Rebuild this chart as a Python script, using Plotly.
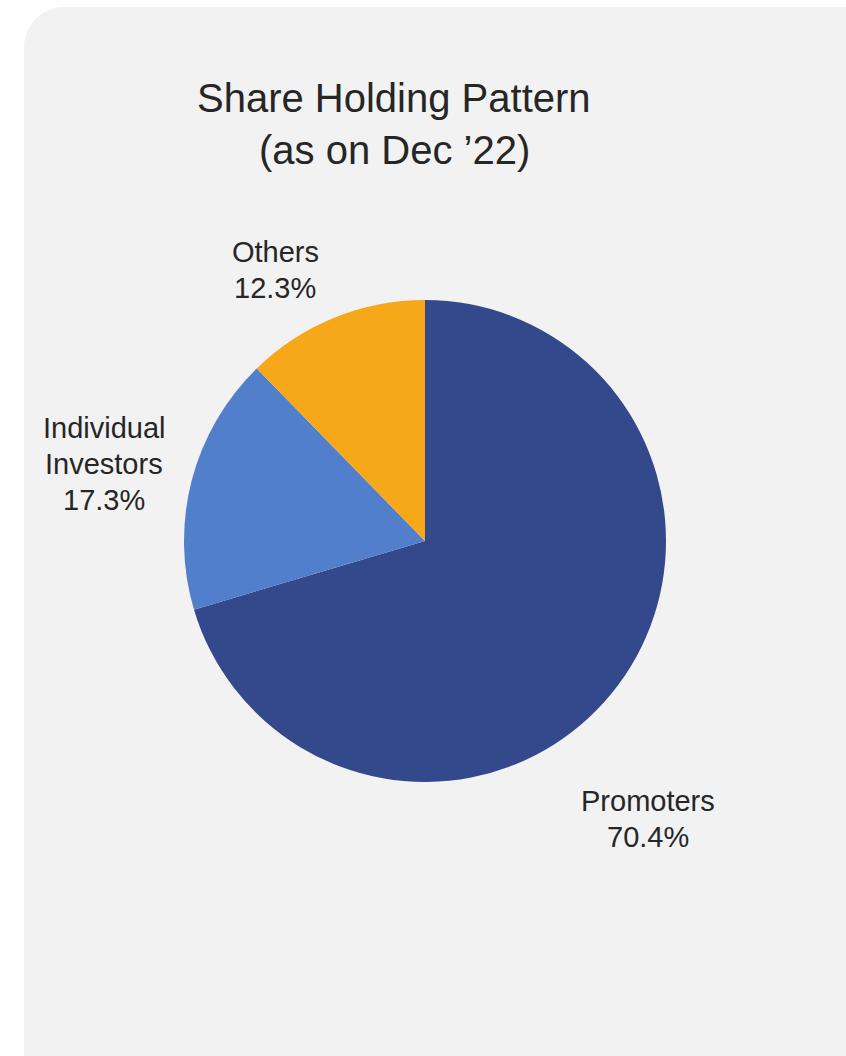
import plotly.graph_objects as go

# Share holding data
categories = ["Promoters", "Individual Investors", "Others"]
shares_pct = [70.4, 17.3, 12.3]
slice_colors = ["#34488C", "#517FCB", "#F6A819"]
label_lines = [["Promoters"], ["Individual", "Investors"], ["Others"]]
title_lines = ["Share Holding Pattern", "(as on Dec \u201922)"]

W, H = 846, 1056
FONT = "Liberation Sans, Arial, sans-serif"
TEXT_COLOR = "#262626"


def px(x):
    return x / W


def py(y):
    return 1 - y / H


fig = go.Figure()

# pie: center (425, 541), radius ~241 px
cx, cy, r = 425, 541, 241
fig.add_trace(go.Pie(
    labels=categories,
    values=shares_pct,
    sort=False,
    direction="clockwise",
    rotation=0,
    marker=dict(colors=slice_colors, line=dict(width=0)),
    textinfo="none",
    hoverinfo="label+percent",
    showlegend=False,
    domain=dict(x=[px(cx - r), px(cx + r)], y=[py(cy + r), py(cy - r)]),
))

# rounded panel behind the chart
x0, y0, rad = 24, 7, 40
k = 0.45
path = (
    f"M {px(x0)},{py(H)} L {px(x0)},{py(y0 + rad)} "
    f"C {px(x0)},{py(y0 + rad * k)} {px(x0 + rad * k)},{py(y0)} {px(x0 + rad)},{py(y0)} "
    f"L {px(W)},{py(y0)} L {px(W)},{py(H)} Z"
)
fig.add_shape(type="path", path=path, xref="paper", yref="paper",
              fillcolor="#F2F2F2", line=dict(width=0), layer="below")

annotations = []
# title
for i, line in enumerate(title_lines):
    annotations.append(dict(
        x=px(394), y=py(98 + 52 * i), xref="paper", yref="paper",
        text=line, showarrow=False, xanchor="center", yanchor="middle",
        font=dict(family=FONT, size=40, color=TEXT_COLOR),
    ))

# slice labels (name lines + value)
label_pos = [(648, 801), (104, 428), (275, 252)]
for lines, val, (lx, ly) in zip(label_lines, shares_pct, label_pos):
    for j, t in enumerate(lines + [f"{val:.1f}%"]):
        annotations.append(dict(
            x=px(lx), y=py(ly + 36 * j), xref="paper", yref="paper",
            text=t, showarrow=False, xanchor="center", yanchor="middle",
            font=dict(family=FONT, size=29, color=TEXT_COLOR),
        ))

fig.update_layout(
    width=W, height=H,
    margin=dict(l=0, r=0, t=0, b=0),
    paper_bgcolor="white",
    plot_bgcolor="white",
    annotations=annotations,
)

fig.write_html("out.html")
